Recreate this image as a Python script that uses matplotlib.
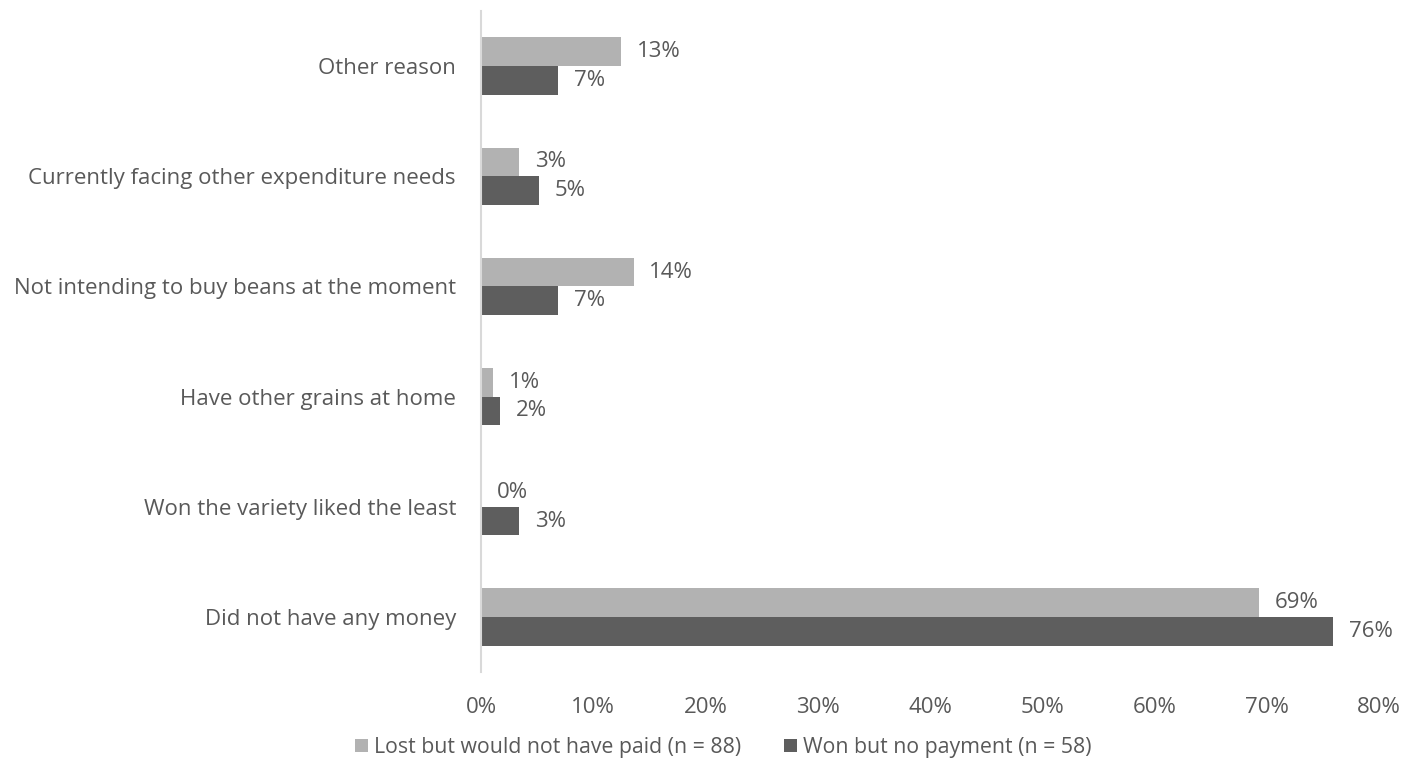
import numpy as np
import matplotlib
matplotlib.use("Agg")
import matplotlib.pyplot as plt

plt.rcParams['font.family'] = ['Open Sans', 'DejaVu Sans']

categories = ["Other reason",
              "Currently facing other expenditure needs",
              "Not intending to buy beans at the moment",
              "Have other grains at home",
              "Won the variety liked the least",
              "Did not have any money"]
lost_vals = [12.5, 3.4, 13.6, 1.1, 0.0, 69.3]
won_vals = [6.9, 5.2, 6.9, 1.7, 3.4, 75.9]
series_names = ["Lost but would not have paid (n = 88)", "Won but no payment (n = 58)"]
xticks = [0, 10, 20, 30, 40, 50, 60, 70, 80]

light = '#b2b2b2'
dark = '#5e5e5e'
txt = '#595959'
fs = 16

fig = plt.figure(figsize=(14.13, 7.77), dpi=100)
ax = fig.add_axes([481/1413, 1 - 672/777, (1379-481)/1413, (672-11)/777])

n = len(categories)
y = np.arange(n)[::-1]  # top category first
h = 0.26
b1 = ax.barh(y + h/2, lost_vals, height=h, color=light, label=series_names[0])
b2 = ax.barh(y - h/2, won_vals, height=h, color=dark, label=series_names[1])

for bars, vals in ((b1, lost_vals), (b2, won_vals)):
    for rect, v in zip(bars, vals):
        ax.text(rect.get_width() + 1.4, rect.get_y() + rect.get_height()/2,
                '%d%%' % int(v + 0.5), va='center', ha='left', fontsize=fs, color=txt)

ax.set_xlim(0, 80)
ax.set_ylim(-0.5, n - 0.5)
ax.set_yticks(y)
ax.set_yticklabels(categories, fontsize=fs, color=txt)
ax.set_xticks(xticks)
ax.set_xticklabels(['%d%%' % t for t in xticks], fontsize=fs, color=txt)
ax.tick_params(axis='both', length=0)
ax.tick_params(axis='y', pad=18)
ax.tick_params(axis='x', pad=18)
for s in ['top', 'right', 'bottom']:
    ax.spines[s].set_visible(False)
ax.spines['left'].set_color('#d9d9d9')
ax.spines['left'].set_linewidth(1.5)

fig.legend(handles=[b1, b2], labels=series_names, loc='center', ncol=2,
           bbox_to_anchor=(0.512, 0.038), frameon=False, fontsize=15.3,
           handlelength=0.6, handleheight=0.6, handletextpad=0.3,
           columnspacing=2.0, labelcolor=txt)

fig.savefig('out.png', dpi=100)
